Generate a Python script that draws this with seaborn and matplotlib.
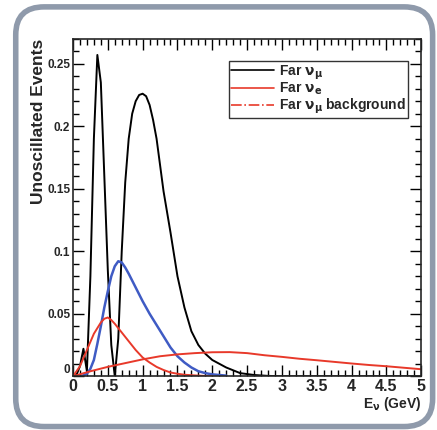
import matplotlib
matplotlib.use("Agg")
import matplotlib.pyplot as plt
import seaborn as sns
from matplotlib.lines import Line2D
from matplotlib.patches import FancyBboxPatch
from matplotlib.ticker import MultipleLocator

# Far nu_mu spectrum (oscillated)
numu_x = [0, 0.05, 0.1, 0.15, 0.2, 0.25, 0.3, 0.35, 0.4, 0.45, 0.5, 0.55, 0.6, 0.65, 0.7,
          0.75, 0.8, 0.85, 0.9, 0.95, 1.0, 1.05, 1.1, 1.15, 1.2, 1.3, 1.4, 1.5, 1.6, 1.7,
          1.8, 1.9, 2.0, 2.2, 2.4, 2.6, 2.8, 3.0, 5.0]
numu_y = [0, 0.001, 0.008, 0.022, 0.004, 0.08, 0.19, 0.257, 0.235, 0.16, 0.085, 0.025, 0.0,
          0.03, 0.1, 0.155, 0.19, 0.21, 0.22, 0.225, 0.226, 0.224, 0.217, 0.205, 0.19, 0.148,
          0.115, 0.08, 0.055, 0.036, 0.025, 0.018, 0.013, 0.007, 0.0025, 0.001, 0.0003, 0, 0]

# blue curve
blue_x = [0.12, 0.2, 0.25, 0.3, 0.35, 0.4, 0.45, 0.5, 0.55, 0.6, 0.65, 0.7, 0.75, 0.8, 0.9,
          1.0, 1.1, 1.2, 1.3, 1.4, 1.5, 1.6, 1.7, 1.8, 1.9, 2.0, 2.2]
blue_y = [0, 0.002, 0.006, 0.013, 0.026, 0.040, 0.055, 0.068, 0.08, 0.088, 0.092, 0.091,
          0.087, 0.082, 0.071, 0.060, 0.050, 0.041, 0.032, 0.023, 0.016, 0.011, 0.007,
          0.004, 0.0025, 0.0015, 0.0005]

# Far nu_e (narrow red peak)
nue_x = [0, 0.1, 0.2, 0.3, 0.4, 0.45, 0.5, 0.55, 0.6, 0.7, 0.8, 0.9, 1.0, 1.1, 1.2, 1.3,
         1.4, 1.5, 1.6, 1.8, 2.0]
nue_y = [0, 0.008, 0.021, 0.034, 0.043, 0.046, 0.047, 0.045, 0.042, 0.035, 0.028, 0.021,
         0.015, 0.011, 0.0075, 0.005, 0.003, 0.002, 0.0012, 0.0005, 0]

# broad red spectrum
bkg_x = [0, 0.25, 0.5, 0.75, 1.0, 1.25, 1.5, 1.75, 2.0, 2.25, 2.5, 2.75, 3.0, 3.25, 3.5,
         3.75, 4.0, 4.25, 4.5, 4.75, 5.0]
bkg_y = [0, 0.004, 0.0075, 0.0105, 0.0135, 0.016, 0.0175, 0.0185, 0.0192, 0.0193, 0.0185,
         0.0168, 0.0155, 0.014, 0.0128, 0.0115, 0.0102, 0.009, 0.008, 0.0068, 0.0056]

legend_labels = [r"Far $\nu_\mu$", r"Far $\nu_e$", r"Far $\nu_\mu$ background"]

sns.set_style("ticks")
plt.rcParams['font.family'] = ['Liberation Sans', 'DejaVu Sans']
plt.rcParams['font.weight'] = 'bold'
plt.rcParams['mathtext.default'] = 'bf'

fig = plt.figure(figsize=(4.37, 4.30), dpi=100)
ax = fig.add_axes([0.167, 0.125, 0.797, 0.785])

# rounded frame around the whole picture
frame = FancyBboxPatch((0.036, 0.008), 0.954, 0.976, boxstyle="round,pad=0,rounding_size=0.065",
                       transform=fig.transFigure, fill=False, edgecolor='#8f9aab', lw=4,
                       clip_on=False)
fig.patches.append(frame)

red = '#e8392a'
sns.lineplot(x=numu_x, y=numu_y, ax=ax, color='black', lw=1.4, sort=False)
sns.lineplot(x=blue_x, y=blue_y, ax=ax, color='#3f5bc4', lw=1.8, sort=False)
sns.lineplot(x=nue_x, y=nue_y, ax=ax, color=red, lw=1.4, sort=False)
sns.lineplot(x=bkg_x, y=bkg_y, ax=ax, color=red, lw=1.4, sort=False)

ax.set_xlim(0, 5)
ax.set_ylim(0, 0.27)
ax.xaxis.set_major_locator(MultipleLocator(0.5))
ax.xaxis.set_minor_locator(MultipleLocator(0.1))
ax.yaxis.set_major_locator(MultipleLocator(0.05))
ax.yaxis.set_minor_locator(MultipleLocator(0.01))
ax.tick_params(which='both', direction='in', top=True, right=True, width=1, color='black')
ax.tick_params(which='major', length=8)
ax.tick_params(which='minor', length=4)
ax.tick_params(axis='x', labelsize=11.5, pad=2)
ax.tick_params(axis='y', labelsize=8.5, pad=2)
ax.set_xticks([0, 0.5, 1, 1.5, 2, 2.5, 3, 3.5, 4, 4.5, 5])
ax.set_xticklabels(['0', '0.5', '1', '1.5', '2', '2.5', '3', '3.5', '4', '4.5', '5'])
ax.set_yticks([0, 0.05, 0.1, 0.15, 0.2, 0.25])
ax.set_yticklabels(['0', '0.05', '0.1', '0.15', '0.2', '0.25'])
# the y "0" sits a little above the axis, as in ROOT plots
ax.get_yticklabels()[0].set_va('bottom')
for s in ax.spines.values():
    s.set_linewidth(1.2)

ax.set_ylabel("Unoscillated Events", fontsize=12.5, fontweight='bold', ha='right', va='center')
ax.yaxis.set_label_coords(-0.098, 1.0)
ax.set_xlabel(r"E$_\nu$ (GeV)", fontsize=10, fontweight='bold', ha='right', va='center')
ax.xaxis.set_label_coords(1.0, -0.082)

handles = [Line2D([], [], color='black', lw=1.2),
           Line2D([], [], color=red, lw=1.2),
           Line2D([], [], color=red, lw=1.2, ls='-.')]
leg = ax.legend(handles, legend_labels, loc='upper right', bbox_to_anchor=(0.963, 0.933),
                fontsize=10, frameon=True, fancybox=False, edgecolor='black',
                handlelength=3.1, handletextpad=0.35, labelspacing=-0.05, borderpad=0.15,
                borderaxespad=0)
leg.get_frame().set_linewidth(1.0)

fig.savefig('out.png', dpi=100)
